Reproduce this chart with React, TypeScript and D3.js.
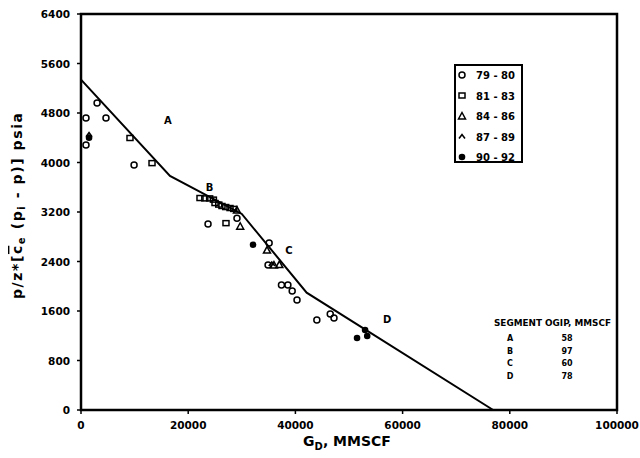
import React from "react";
import * as d3 from "d3";

const yTicks = [0, 800, 1600, 2400, 3200, 4000, 4800, 5600, 6400];
const xTicks = [0, 20000, 40000, 60000, 80000, 100000];

// straight-line fit segments
const fitLine: [number, number][] = [
  [0, 5340],
  [16600, 3782],
  [30000, 3168],
  [42100, 1896],
  [76900, 0],
];

// 79 - 80 (open circles)
const circles7980: [number, number][] = [
  [930, 4720], [3000, 4960], [4660, 4720], [930, 4283], [9900, 3960],
  [23700, 3006], [29100, 3100], [35100, 2700], [34900, 2343],
  [37400, 2020], [38600, 2020], [39400, 1923], [40300, 1778],
  [44000, 1455], [46500, 1550], [47200, 1487],
];
// 81 - 83 (open squares)
const squares8183: [number, number][] = [
  [9140, 4396], [13250, 3990], [22200, 3426], [23100, 3420], [24000, 3420],
  [24700, 3400], [25000, 3345], [25700, 3320], [26300, 3297], [27000, 3280],
  [27800, 3264], [28500, 3250], [27050, 3020],
];
// 84 - 86 (open triangles)
const triangles8486: [number, number][] = [
  [29100, 3232], [29700, 2970], [34700, 2585], [36000, 2343], [37000, 2350],
];
// 87 - 89 (carets)
const carets8789: [number, number][] = [
  [1500, 4450], [35600, 2360],
];
// 90 - 92 (filled)
const filled9092: [number, number][] = [
  [1500, 4400], [32100, 2670], [51500, 1163], [53000, 1293], [53400, 1196],
];

const segLabels = [
  { t: "A", x: 16200, y: 4690 },
  { t: "B", x: 24000, y: 3610 },
  { t: "C", x: 38800, y: 2590 },
  { t: "D", x: 57100, y: 1470 },
];

const legendLabels = ["79 - 80", "81 - 83", "84 - 86", "87 - 89", "90 - 92"];
const tableSegments = ["A", "B", "C", "D"];
const tableOgip = ["58", "97", "60", "78"];

const W = 640, H = 458;
const L = 81, R = 617, T = 14, B = 410;

export default function App() {
  const x = d3.scaleLinear().domain([0, 100000]).range([L, R]);
  const y = d3.scaleLinear().domain([0, 6400]).range([B, T]);
  const line = d3.line<[number, number]>().x((d) => x(d[0])).y((d) => y(d[1]));
  const font = "'DejaVu Sans', sans-serif";

  const circle = (cx: number, cy: number, k: string) => (
    <circle key={k} cx={cx} cy={cy} r={3} fill="none" stroke="#000" strokeWidth={1.5} />
  );
  const square = (cx: number, cy: number, k: string) => (
    <rect key={k} x={cx - 3} y={cy - 2.5} width={6} height={5} fill="none" stroke="#000" strokeWidth={1.5} />
  );
  const tri = (cx: number, cy: number, k: string, filled = false) => (
    <path key={k} d={`M${cx},${cy - 3.5}L${cx + 3.5},${cy + 3}L${cx - 3.5},${cy + 3}Z`}
      fill={filled ? "#000" : "none"} stroke="#000" strokeWidth={1.5} />
  );
  const caret = (cx: number, cy: number, k: string) => (
    <path key={k} d={`M${cx - 3},${cy + 2}L${cx},${cy - 2}L${cx + 3},${cy + 2}`} fill="none" stroke="#000" strokeWidth={1.6} />
  );
  const dot = (cx: number, cy: number, k: string) => (
    <circle key={k} cx={cx} cy={cy} r={3.3} fill="#000" />
  );

  return (
    <svg width={W} height={H} style={{ position: "absolute", left: 0, top: 0 }}>
      <rect width={W} height={H} fill="#fff" />
      {/* frame */}
      <rect x={L} y={T} width={R - L} height={B - T} fill="none" stroke="#000" strokeWidth={2.5} />
      {/* y ticks */}
      {yTicks.map((v) => (
        <g key={"y" + v}>
          <line x1={L - 4} x2={L} y1={y(v)} y2={y(v)} stroke="#000" strokeWidth={1.5} />
          <text x={70} y={y(v) + 4} textAnchor="end" fontFamily={font} fontWeight="bold" fontSize={10.5}>{v}</text>
        </g>
      ))}
      {/* x ticks */}
      {xTicks.map((v) => (
        <g key={"x" + v}>
          <line x1={x(v)} x2={x(v)} y1={B} y2={B + 4} stroke="#000" strokeWidth={1.5} />
          <text x={x(v)} y={429} textAnchor="middle" fontFamily={font} fontWeight="bold" fontSize={10.5}>{v}</text>
        </g>
      ))}
      {/* axis titles */}
      <text x={347} y={446} textAnchor="middle" fontFamily={font} fontWeight="bold" fontSize={14}>
        G<tspan fontSize={10} dy={4}>D</tspan><tspan dy={-4}>, MMSCF</tspan>
      </text>
      <text transform="translate(22,206) rotate(-90)" textAnchor="middle" fontFamily={font} fontWeight="bold" fontSize={14}
        textLength={186} lengthAdjust="spacing">
        p/z*[<tspan textDecoration="overline">c</tspan><tspan fontSize={10} dy={3}>e</tspan><tspan dy={-3}> (p</tspan><tspan fontSize={10} dy={3}>i</tspan><tspan dy={-3}> - p)] psia</tspan>
      </text>
      {/* fitted line */}
      <path d={line(fitLine) || ""} fill="none" stroke="#000" strokeWidth={2} />
      {/* data */}
      {circles7980.map((d, i) => circle(x(d[0]), y(d[1]), "c" + i))}
      {squares8183.map((d, i) => square(x(d[0]), y(d[1]), "s" + i))}
      {triangles8486.map((d, i) => tri(x(d[0]), y(d[1]), "t" + i))}
      {carets8789.map((d, i) => caret(x(d[0]), y(d[1]), "k" + i))}
      {filled9092.map((d, i) => dot(x(d[0]), y(d[1]), "f" + i))}
      {/* segment letters */}
      {segLabels.map((s) => (
        <text key={s.t} x={x(s.x)} y={y(s.y) + 4} textAnchor="middle" fontFamily={font} fontWeight="bold" fontSize={10}>{s.t}</text>
      ))}
      {/* legend */}
      <rect x={455} y={65} width={67} height={97} fill="#fff" stroke="#000" strokeWidth={2} />
      {legendLabels.map((lab, i) => {
        const ly = 75 + i * 20.5;
        const mx = 462;
        const marker = [
          circle(mx, ly, "lc"),
          square(mx, ly, "ls"),
          tri(mx, ly, "lt"),
          caret(mx, ly, "lk"),
          dot(mx, ly, "lf"),
        ][i];
        return (
          <g key={lab}>
            {marker}
            <text x={476} y={ly + 4} fontFamily={font} fontWeight="bold" fontSize={10}>{lab}</text>
          </g>
        );
      })}
      {/* OGIP table */}
      <text x={494} y={326} fontFamily={font} fontWeight="bold" fontSize={8} textLength={117} lengthAdjust="spacingAndGlyphs">SEGMENT OGIP, MMSCF</text>
      {tableSegments.map((s, i) => (
        <g key={"tb" + s}>
          <text x={510} y={341 + i * 12.5} textAnchor="middle" fontFamily={font} fontWeight="bold" fontSize={8}>{s}</text>
          <text x={567} y={341 + i * 12.5} textAnchor="middle" fontFamily={font} fontWeight="bold" fontSize={8}>{tableOgip[i]}</text>
        </g>
      ))}
    </svg>
  );
}
